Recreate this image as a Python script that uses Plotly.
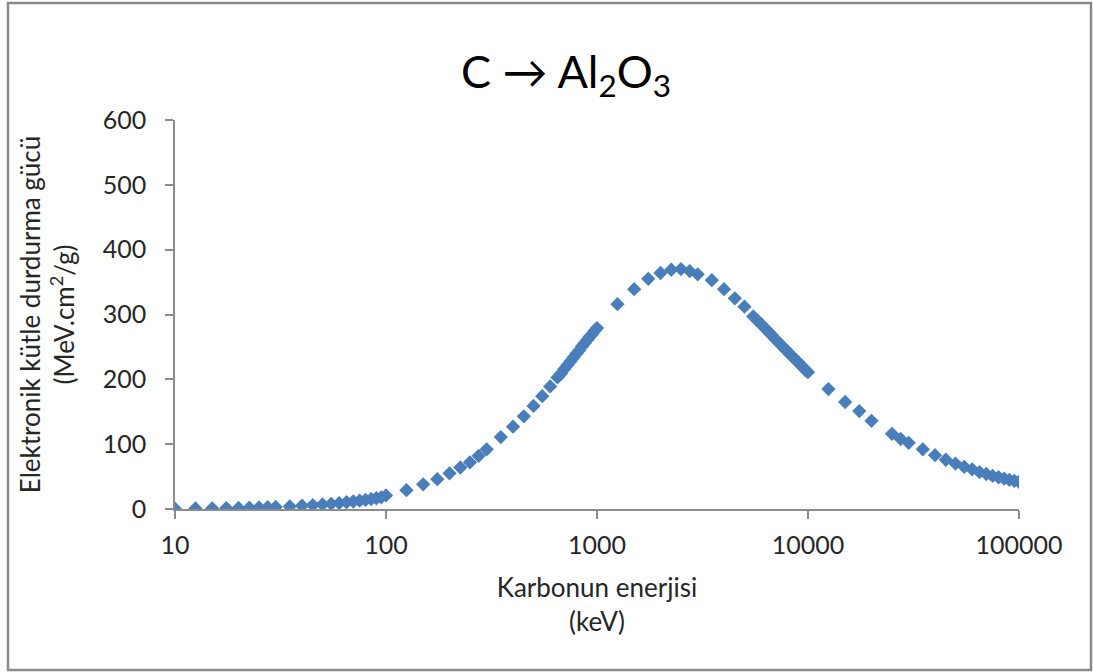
import plotly.graph_objects as go

# Carbon ion energy (keV) and electronic mass stopping power in Al2O3 (MeV.cm2/g)
energy_kev = [
    10, 12.5, 15, 17.5, 20, 22.5, 25, 27.5, 30, 35, 40, 45, 50, 55, 60, 65, 70, 75, 80, 85, 90, 95,
    100, 125, 150, 175, 200, 225, 250, 275, 300, 350, 400, 450, 500, 550, 600, 650,
    675, 700, 725, 750, 775, 800, 825, 850, 875, 900, 925, 950, 975,
    1000, 1250, 1500, 1750, 2000, 2250, 2500, 2750, 3000, 3500, 4000, 4500, 5000, 5500,
    5750, 6000, 6250, 6500, 6750, 7000, 7250, 7500, 7750, 8000, 8250, 8500, 8750, 9000, 9250, 9500, 9750,
    10000, 12500, 15000, 17500, 20000, 25000, 27500, 30000, 35000, 40000, 45000, 50000,
    55000, 60000, 65000, 70000, 75000, 80000, 85000, 90000, 95000, 100000,
]
stopping_power = [
    0.5, 0.8, 1.1, 1.4, 1.7, 2.0, 2.4, 2.8, 3.2, 4.0, 5.0, 6.0, 7.0, 8.0, 9.2, 10.4, 11.6, 12.8, 14.0, 15.3, 16.6, 18.0,
    21, 29, 38, 46, 55, 64, 72, 82, 92, 111, 127, 143, 159, 174, 189, 203,
    209, 216, 222, 228, 234, 240, 245, 251, 256, 261, 266, 270, 275,
    279, 316, 339, 355, 364, 369, 370, 367, 362, 353, 339, 325, 312, 297,
    291, 285, 279, 273, 268, 262, 257, 252, 247, 243, 238, 234, 230, 226, 222, 218, 214,
    211, 185, 165, 151, 136, 116, 108, 102, 92, 83, 76, 70,
    65, 61, 57, 54, 51, 49, 47, 45, 43.5, 42,
]

x_tick_vals = [10, 100, 1000, 10000, 100000]
x_tick_text = ["10", "100", "1000", "10000", "100000"]
y_tick_vals = [0, 100, 200, 300, 400, 500, 600]

FONT = "Lato, 'Open Sans', sans-serif"
AXIS_GREY = "#8c8c8c"
TEXT = "#262626"

fig = go.Figure(
    go.Scatter(
        x=energy_kev,
        y=stopping_power,
        mode="markers",
        marker=dict(symbol="diamond", size=11, color="#4A7EBB", line=dict(width=0)),
        showlegend=False,
    )
)

W, H = 1093, 672
L, R, T, B = 175, 74, 120, 163
pw, ph = W - L - R, H - T - B

def px_x(px):
    return (px - L) / pw

def px_y(py):
    return (H - B - py) / ph

fig.update_layout(
    width=W,
    height=H,
    margin=dict(l=L, r=R, t=T, b=B),
    paper_bgcolor="white",
    plot_bgcolor="white",
    font=dict(family=FONT, color=TEXT),
    title=dict(
        text="C → Al<sub>2</sub>O<sub>3</sub>",
        font=dict(family=FONT, size=45, color="#000000"),
        x=566 / W,
        xanchor="center",
        y=1 - 72 / H,
        yanchor="middle",
    ),
    xaxis=dict(
        type="log",
        range=[1, 5],
        tickvals=x_tick_vals,
        ticktext=x_tick_text,
        showgrid=False,
        zeroline=False,
        showline=True,
        linecolor=AXIS_GREY,
        linewidth=1.5,
        ticks="outside",
        ticklen=8,
        tickwidth=1.5,
        tickcolor=AXIS_GREY,
        tickfont=dict(size=25, color=TEXT),
        ticklabelstandoff=5,
        title=dict(
            text="Karbonun enerjisi<br>(keV)",
            font=dict(size=26, color=TEXT),
            standoff=21,
        ),
    ),
    yaxis=dict(
        range=[0, 600],
        tickvals=y_tick_vals,
        showgrid=False,
        zeroline=False,
        showline=True,
        linecolor=AXIS_GREY,
        linewidth=1.5,
        ticks="outside",
        ticklen=8,
        tickwidth=1.5,
        tickcolor=AXIS_GREY,
        tickfont=dict(size=25, color=TEXT),
        ticklabelstandoff=14,
        title=dict(
            text="Elektronik kütle durdurma gücü<br>(MeV.cm<sup>2</sup>/g)",
            font=dict(size=26, color=TEXT),
            standoff=21,
        ),
    ),
    shapes=[
        dict(
            type="rect",
            xref="paper",
            yref="paper",
            x0=px_x(8),
            x1=px_x(1091),
            y0=px_y(670),
            y1=px_y(3),
            line=dict(color="#8a8a8a", width=2.5),
            fillcolor="rgba(0,0,0,0)",
            layer="below",
        )
    ],
)

fig.write_html("out.html")
